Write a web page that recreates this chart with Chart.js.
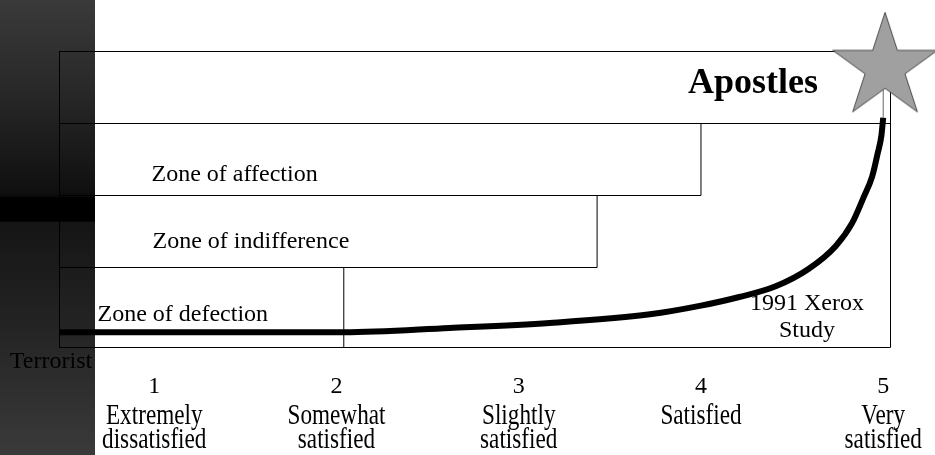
<!DOCTYPE html>
<html>
<head>
<meta charset="utf-8">
<script src="https://cdn.jsdelivr.net/npm/chart.js@4.4.1/dist/chart.umd.min.js"></script>
<style>
  html, body { margin: 0; padding: 0; background: #fff; }
  #wrap { width: 935px; height: 455px; position: relative; }
</style>
</head>
<body>
<div id="wrap"><canvas id="loyaltyChart"></canvas></div>
<script>
// satisfaction scale along the bottom
const satisfactionScores = [1, 2, 3, 4, 5];
const satisfactionLabels = [
    ['Extremely', 'dissatisfied'],
    ['Somewhat', 'satisfied'],
    ['Slightly', 'satisfied'],
    ['Satisfied'],
    ['Very', 'satisfied']
];

// loyalty curve (satisfaction score -> loyalty level)
const curveScore   = [0.48, 1.25, 2.04, 2.62, 3.17, 3.72, 4.00, 4.21, 4.41, 4.59, 4.74, 4.83, 4.89, 4.94, 4.97, 4.99, 5.0];
const curveLoyalty = [0.10, 0.10, 0.10, 0.16, 0.23, 0.35, 0.47, 0.59, 0.74, 0.98, 1.30, 1.62, 1.96, 2.27, 2.59, 2.83, 3.08];

// zones: loyalty band and how far along the satisfaction scale each one reaches
const zoneNames   = ['Zone of defection', 'Zone of indifference', 'Zone of affection', 'Apostles'];
const zoneFloor   = [-0.111, 1, 2, 3];
const zoneCeiling = [1, 2, 3, 4];
const zoneReach   = [2.04, 3.43, 4.0, 5.04];

const scoreRange = [0.48, 5.04];
const loyaltyRange = [-0.111, 4];

const starPoint = { x: 5.01, y: 3.78 };
const lowestLabel = 'Terrorist';
const studyNote = ['1991 Xerox', 'Study'];

function makeStar(R) {
    const c = document.createElement('canvas');
    const size = Math.ceil(R * 2 + 4);
    c.width = size;
    c.height = size;
    const g = c.getContext('2d');
    const cx = size / 2, cy = size / 2, r = R * 0.382;
    g.beginPath();
    for (let i = 0; i < 10; i++) {
        const rad = i % 2 ? r : R;
        const a = -Math.PI / 2 + i * Math.PI / 5;
        g.lineTo(cx + rad * Math.cos(a), cy + rad * Math.sin(a));
    }
    g.closePath();
    g.fillStyle = '#a0a0a0';
    g.fill();
    g.strokeStyle = '#4a4a4a';
    g.lineWidth = 1;
    g.stroke();
    return c;
}

function box(x0, x1, y0, y1) {
    return [{ x: x0, y: y0 }, { x: x1, y: y0 }, { x: x1, y: y1 }, { x: x0, y: y1 }, { x: x0, y: y0 }];
}

const boxStyle = {
    type: 'line',
    borderColor: '#000',
    borderWidth: 1,
    pointRadius: 0,
    tension: 0,
    fill: false,
    clip: false
};

const lastScore = curveScore[curveScore.length - 1];
const lastLoyalty = curveLoyalty[curveLoyalty.length - 1];

const datasets = [
    {
        // star marker; the image sets its size, the radius is kept small so it doesn't pad the layout
        type: 'line',
        data: [starPoint],
        pointStyle: makeStar(55),
        pointRadius: 1,
        showLine: false,
        clip: false
    },
    {
        type: 'line',
        data: curveScore.map((s, i) => ({ x: s, y: curveLoyalty[i] })),
        borderColor: '#000',
        borderWidth: 6,
        pointRadius: 0,
        cubicInterpolationMode: 'monotone',
        borderCapStyle: 'butt',
        borderJoinStyle: 'round',
        clip: false
    },
    {
        type: 'line',
        data: [{ x: lastScore, y: lastLoyalty }, { x: lastScore, y: starPoint.y }],
        borderColor: '#666',
        borderWidth: 1,
        pointRadius: 0
    },
    Object.assign({ data: box(scoreRange[0], scoreRange[1], loyaltyRange[0], loyaltyRange[1]) }, boxStyle)
];
zoneNames.forEach((name, i) => {
    datasets.push(Object.assign({ data: box(scoreRange[0], zoneReach[i], zoneFloor[i], zoneCeiling[i]) }, boxStyle));
});

// dark strip down the left side of the page
const backdrop = {
    id: 'backdrop',
    beforeDraw(chart) {
        const ctx = chart.ctx;
        const h = chart.height;
        ctx.save();
        ctx.fillStyle = '#fff';
        ctx.fillRect(0, 0, chart.width, h);
        const grad = ctx.createLinearGradient(0, 0, 0, h);
        grad.addColorStop(0, '#3a3a3a');
        grad.addColorStop(0.2, '#282828');
        grad.addColorStop(0.42, '#101010');
        grad.addColorStop(0.432, '#0a0a0a');
        grad.addColorStop(0.434, '#000');
        grad.addColorStop(0.486, '#000');
        grad.addColorStop(0.489, '#151515');
        grad.addColorStop(0.72, '#242424');
        grad.addColorStop(1, '#3a3a3a');
        ctx.fillStyle = grad;
        ctx.fillRect(0, 0, 95, h);
        ctx.restore();
    }
};

// zone names, study note and the satisfaction scale labels
const captions = {
    id: 'captions',
    afterDraw(chart) {
        const ctx = chart.ctx;
        const xs = chart.scales.x, ys = chart.scales.y;
        const area = chart.chartArea;
        ctx.save();
        ctx.fillStyle = '#000';
        ctx.textBaseline = 'alphabetic';

        // zone names sit near the bottom of their band
        const zoneText = [
            { dx: 38, dy: -27 },
            { dx: 93, dy: -20 },
            { dx: 92, dy: -15 }
        ];
        ctx.font = '24px "Liberation Serif"';
        ctx.textAlign = 'left';
        zoneText.forEach((t, i) => {
            ctx.fillText(zoneNames[i], area.left + t.dx, ys.getPixelForValue(zoneFloor[i]) + t.dy);
        });
        ctx.font = 'bold 36px "Liberation Serif"';
        ctx.textAlign = 'right';
        ctx.fillText(zoneNames[3], 818, ys.getPixelForValue(zoneFloor[3]) - 31);

        ctx.font = '24px "Liberation Serif"';
        ctx.textAlign = 'center';
        ctx.fillText(studyNote[0], 807, 310);
        ctx.fillText(studyNote[1], 807, 337);
        ctx.fillText(lowestLabel, 51, area.bottom + 20);

        satisfactionScores.forEach((s, i) => {
            const px = xs.getPixelForValue(s);
            ctx.font = '24px "Liberation Serif"';
            ctx.fillText(String(s), px, area.bottom + 45.5);
            satisfactionLabels[i].forEach((line, j) => {
                ctx.save();
                ctx.translate(px, area.bottom + 76.5 + j * 24);
                ctx.scale(0.8, 1);
                ctx.font = '29px "Liberation Serif"';
                ctx.fillText(line, 0, 0);
                ctx.restore();
            });
        });
        ctx.restore();
    }
};

new Chart(document.getElementById('loyaltyChart'), {
    type: 'line',
    data: { datasets: datasets },
    options: {
        responsive: true,
        maintainAspectRatio: false,
        animation: false,
        events: [],
        layout: { padding: { left: 59.5, right: 44.5, top: 51.5, bottom: 107.5 } },
        plugins: { legend: { display: false }, tooltip: { enabled: false } },
        scales: {
            x: { type: 'linear', min: scoreRange[0], max: scoreRange[1], display: false },
            y: { type: 'linear', min: loyaltyRange[0], max: loyaltyRange[1], display: false }
        }
    },
    plugins: [backdrop, captions]
});
</script>
</body>
</html>
